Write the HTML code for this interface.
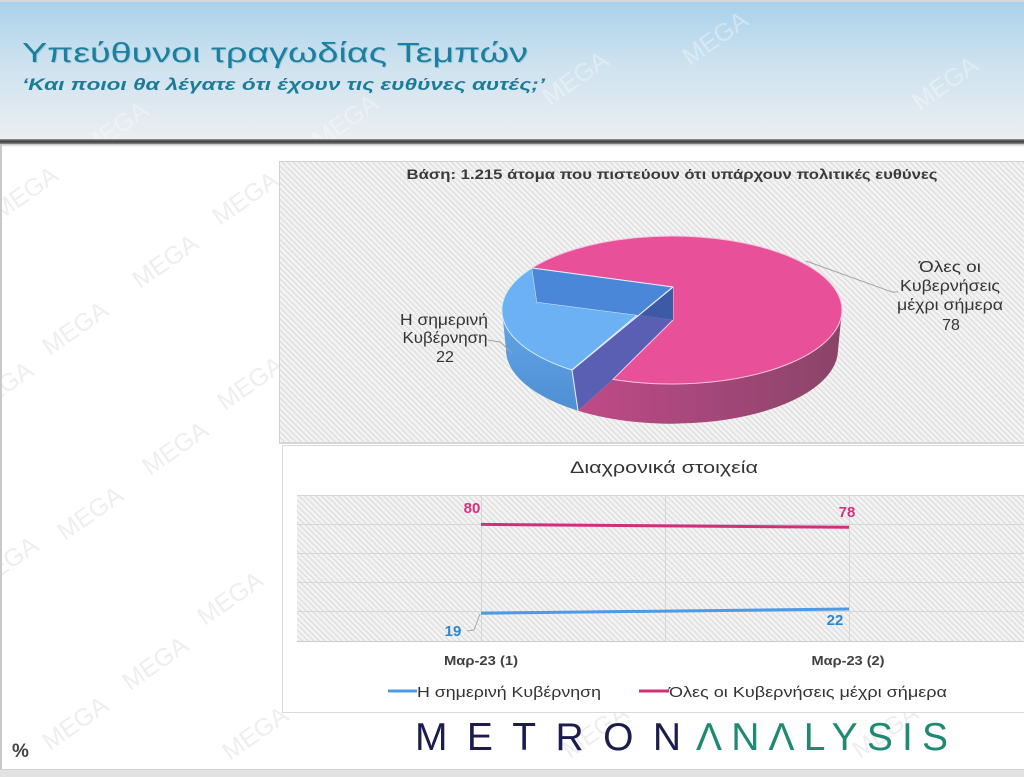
<!DOCTYPE html>
<html>
<head>
<meta charset="utf-8">
<style>
html,body{margin:0;padding:0;background:#fff;}
svg{display:block;}
text{font-family:"Liberation Sans","DejaVu Sans",sans-serif;}
</style>
</head>
<body>
<svg width="1024" height="777" viewBox="0 0 1024 777" xmlns="http://www.w3.org/2000/svg">
<defs>
  <linearGradient id="hdr" x1="0" y1="0" x2="0" y2="1">
    <stop offset="0" stop-color="#a8d1eb"/>
    <stop offset="0.45" stop-color="#cde2ef"/>
    <stop offset="1" stop-color="#eceef2"/>
  </linearGradient>
  <linearGradient id="div" x1="0" y1="0" x2="0" y2="1">
    <stop offset="0" stop-color="#9a9a9a"/>
    <stop offset="0.5" stop-color="#3a3a3a"/>
    <stop offset="1" stop-color="#8a8a8a"/>
  </linearGradient>
  <linearGradient id="shd" x1="0" y1="0" x2="0" y2="1">
    <stop offset="0" stop-color="#bbbbbb"/>
    <stop offset="1" stop-color="#ffffff" stop-opacity="0"/>
  </linearGradient>
  <pattern id="hatch" width="4" height="4" patternUnits="userSpaceOnUse" patternTransform="rotate(-45)">
    <rect width="4" height="4" fill="#f3f3f3"/>
    <rect width="1.2" height="4" fill="#dcdcdc"/>
  </pattern>
  <linearGradient id="pinkSide" x1="578" y1="0" x2="842" y2="0" gradientUnits="userSpaceOnUse">
    <stop offset="0" stop-color="#c04a86"/>
    <stop offset="0.5" stop-color="#a4477a"/>
    <stop offset="1" stop-color="#8a4468"/>
  </linearGradient>
  <linearGradient id="blueSide" x1="0" y1="310" x2="0" y2="410" gradientUnits="userSpaceOnUse">
    <stop offset="0" stop-color="#62a6e8"/>
    <stop offset="1" stop-color="#4f8fd3"/>
  </linearGradient>
</defs>

<!-- page background -->
<rect x="0" y="0" width="1024" height="777" fill="#ffffff"/>

<!-- header -->
<rect x="0" y="0" width="1024" height="140" fill="url(#hdr)"/>
<rect x="0" y="0" width="1024" height="2" fill="#d4d6d8"/>

<!-- header watermarks (faint) -->
<g fill="#ffffff" opacity="0.35" font-size="25" font-family="Liberation Sans, sans-serif">
  <text transform="translate(120,135) rotate(-35)" text-anchor="middle">MEGA</text>
  <text transform="translate(350,128) rotate(-35)" text-anchor="middle">MEGA</text>
  <text transform="translate(580,85) rotate(-35)" text-anchor="middle">MEGA</text>
  <text transform="translate(720,45) rotate(-35)" text-anchor="middle">MEGA</text>
  <text transform="translate(950,90) rotate(-35)" text-anchor="middle">MEGA</text>
</g>

<rect x="0" y="139" width="1024" height="5" fill="url(#div)"/>
<rect x="0" y="144" width="1024" height="4" fill="url(#shd)"/>

<!-- body watermarks -->
<g fill="#eeeeee" font-size="25" font-family="Liberation Sans, sans-serif">
  <text transform="translate(30,200) rotate(-35)" text-anchor="middle">MEGA</text>
  <text transform="translate(250,205) rotate(-35)" text-anchor="middle">MEGA</text>
  <text transform="translate(170,268) rotate(-35)" text-anchor="middle">MEGA</text>
  <text transform="translate(80,335) rotate(-35)" text-anchor="middle">MEGA</text>
  <text transform="translate(255,390) rotate(-35)" text-anchor="middle">MEGA</text>
  <text transform="translate(5,395) rotate(-35)" text-anchor="middle">MEGA</text>
  <text transform="translate(180,455) rotate(-35)" text-anchor="middle">MEGA</text>
  <text transform="translate(95,520) rotate(-35)" text-anchor="middle">MEGA</text>
  <text transform="translate(10,570) rotate(-35)" text-anchor="middle">MEGA</text>
  <text transform="translate(235,605) rotate(-35)" text-anchor="middle">MEGA</text>
  <text transform="translate(160,670) rotate(-35)" text-anchor="middle">MEGA</text>
  <text transform="translate(80,730) rotate(-35)" text-anchor="middle">MEGA</text>
  <text transform="translate(260,740) rotate(-35)" text-anchor="middle">MEGA</text>
  <text transform="translate(600,738) rotate(-35)" text-anchor="middle">MEGA</text>
  <text transform="translate(890,738) rotate(-35)" text-anchor="middle">MEGA</text>
</g>

<!-- header text -->
<text x="23" y="63" font-size="28" fill="#7fb2c8" opacity="0.5" textLength="506" lengthAdjust="spacingAndGlyphs">Υπεύθυνοι τραγωδίας Τεμπών</text>
<text x="22" y="62" font-size="28" fill="#1b7f9d" textLength="506" lengthAdjust="spacingAndGlyphs">Υπεύθυνοι τραγωδίας Τεμπών</text>
<text x="22" y="90" font-size="17" font-style="italic" font-weight="bold" fill="#1c7c98" textLength="523" lengthAdjust="spacingAndGlyphs">‘Και ποιοι θα λέγατε ότι έχουν τις ευθύνες αυτές;’</text>

<!-- left border & bottom band -->
<rect x="0" y="144" width="2" height="630" fill="#c9c9c9"/>
<rect x="0" y="770" width="1024" height="7" fill="#e2e2e2"/>
<rect x="0" y="769" width="1024" height="1" fill="#d2d2d2"/>

<!-- pie panel -->
<rect x="279.5" y="161.5" width="760" height="281" fill="url(#hatch)" stroke="#d2d2d2"/>
<rect x="279" y="442" width="760" height="2" fill="#d6d6d6"/>
<text x="672" y="179" font-size="14" font-weight="bold" fill="#3a3a3a" text-anchor="middle" textLength="531" lengthAdjust="spacingAndGlyphs">Βάση: 1.215 άτομα που πιστεύουν ότι υπάρχουν πολιτικές ευθύνες</text>

<!-- pie sides -->
<path d="M 613,379.4 A 170 74 0 0 0 842,310 L 838,350 A 166 74 0 0 1 578,410.7 Z" fill="url(#pinkSide)"/>
<path d="M 502,310 A 170 74 0 0 0 572,370 L 578,410.7 A 166 74 0 0 1 506,350 Z" fill="url(#blueSide)"/>
<path d="M 637,315 L 673,320 L 613,379.4 L 578,410.7 L 572,370 Z" fill="#5a5fb4"/>
<!-- pie tops -->
<path d="M 532,268 L 673,287 L 673,320 L 613,379.4 A 170 74 0 1 0 532,268 Z" fill="#e8509a" stroke="#f6c6dd" stroke-width="1"/>
<path d="M 537,302 L 637,315 L 572,370 A 170 74 0 0 1 532,268 Z" fill="#6bb1f3" stroke="#d8ecfb" stroke-width="1"/>
<path d="M 532,268 L 673,287 L 637,315 L 537,302 Z" fill="#4b87d8"/>
<path d="M 673,287 L 673,320 L 637,315 Z" fill="#3d5aa7"/>
<line x1="673" y1="287" x2="572" y2="370" stroke="#e6f0fb" stroke-width="1.2"/>
<line x1="572" y1="370" x2="578" y2="410.7" stroke="#e6f0fb" stroke-width="1"/>
<line x1="532" y1="268" x2="673" y2="287" stroke="#e6f0fb" stroke-width="1"/>

<!-- pie labels -->
<polyline points="806,261 892,292 898,292" fill="none" stroke="#a3a3a3" stroke-width="1"/>
<polyline points="488,340 500,342 512,353" fill="none" stroke="#a3a3a3" stroke-width="1"/>
<g font-size="16" fill="#353535" text-anchor="middle">
  <text x="444" y="325" textLength="88" lengthAdjust="spacingAndGlyphs">Η σημερινή</text>
  <text x="445" y="343" textLength="85" lengthAdjust="spacingAndGlyphs">Κυβέρνηση</text>
  <text x="445" y="362">22</text>
  <text x="950" y="272" textLength="62" lengthAdjust="spacingAndGlyphs">Όλες οι</text>
  <text x="950" y="291" textLength="100" lengthAdjust="spacingAndGlyphs">Κυβερνήσεις</text>
  <text x="950" y="310" textLength="106" lengthAdjust="spacingAndGlyphs">μέχρι σήμερα</text>
  <text x="951" y="330">78</text>
</g>

<!-- line chart panel -->
<rect x="282.5" y="445.5" width="760" height="267" fill="#ffffff" stroke="#dadada"/>
<text x="664" y="473" font-size="17" fill="#333333" text-anchor="middle" textLength="188" lengthAdjust="spacingAndGlyphs">Διαχρονικά στοιχεία</text>
<rect x="297" y="495" width="740" height="146" fill="url(#hatch)"/>
<g stroke="#d6d6d6" stroke-width="1">
  <line x1="297" y1="495.5" x2="1024" y2="495.5"/>
  <line x1="297" y1="524.5" x2="1024" y2="524.5"/>
  <line x1="297" y1="553.5" x2="1024" y2="553.5"/>
  <line x1="297" y1="582.5" x2="1024" y2="582.5"/>
  <line x1="297" y1="611.5" x2="1024" y2="611.5"/>
  <line x1="481.5" y1="495" x2="481.5" y2="641"/>
  <line x1="665.5" y1="495" x2="665.5" y2="641"/>
  <line x1="849.5" y1="495" x2="849.5" y2="641"/>
</g>
<line x1="297" y1="641.5" x2="1024" y2="641.5" stroke="#cccccc" stroke-width="1"/>

<!-- series -->
<line x1="481" y1="524.4" x2="849" y2="527.3" stroke="#d22e7c" stroke-width="3"/>
<line x1="481" y1="613.2" x2="849" y2="609" stroke="#4c9be6" stroke-width="3"/>
<polyline points="467,631 474,630 480,614" fill="none" stroke="#a8a8a8" stroke-width="1"/>

<g font-size="15" font-weight="bold" text-anchor="middle">
  <text x="472" y="513" fill="#d4317e">80</text>
  <text x="847" y="517" fill="#d4317e">78</text>
  <text x="453" y="636" fill="#2a86cf">19</text>
  <text x="835" y="625" fill="#2a86cf">22</text>
</g>

<g font-size="13" font-weight="bold" fill="#404040" text-anchor="middle">
  <text x="481" y="665" textLength="74" lengthAdjust="spacingAndGlyphs">Μαρ-23 (1)</text>
  <text x="848" y="665" textLength="73" lengthAdjust="spacingAndGlyphs">Μαρ-23 (2)</text>
</g>

<!-- legend -->
<line x1="388" y1="691" x2="417" y2="691" stroke="#4c9be6" stroke-width="3"/>
<text x="417" y="697" font-size="15" fill="#333333" textLength="184" lengthAdjust="spacingAndGlyphs">Η σημερινή Κυβέρνηση</text>
<line x1="639" y1="691" x2="669" y2="691" stroke="#d22e7c" stroke-width="3"/>
<text x="669" y="697" font-size="15" fill="#333333" textLength="278" lengthAdjust="spacingAndGlyphs">Όλες οι Κυβερνήσεις μέχρι σήμερα</text>

<!-- logo -->
<text x="415" y="750" font-size="39" fill="#1c1d4f" textLength="266" lengthAdjust="spacing">METRON</text>
<text x="696" y="750" font-size="39" fill="#1e8a72" textLength="252" lengthAdjust="spacing">ΛNΛLYSIS</text>

<!-- percent -->
<text x="12" y="757" font-size="19" font-weight="bold" fill="#444444">%</text>
</svg>
</body>
</html>
